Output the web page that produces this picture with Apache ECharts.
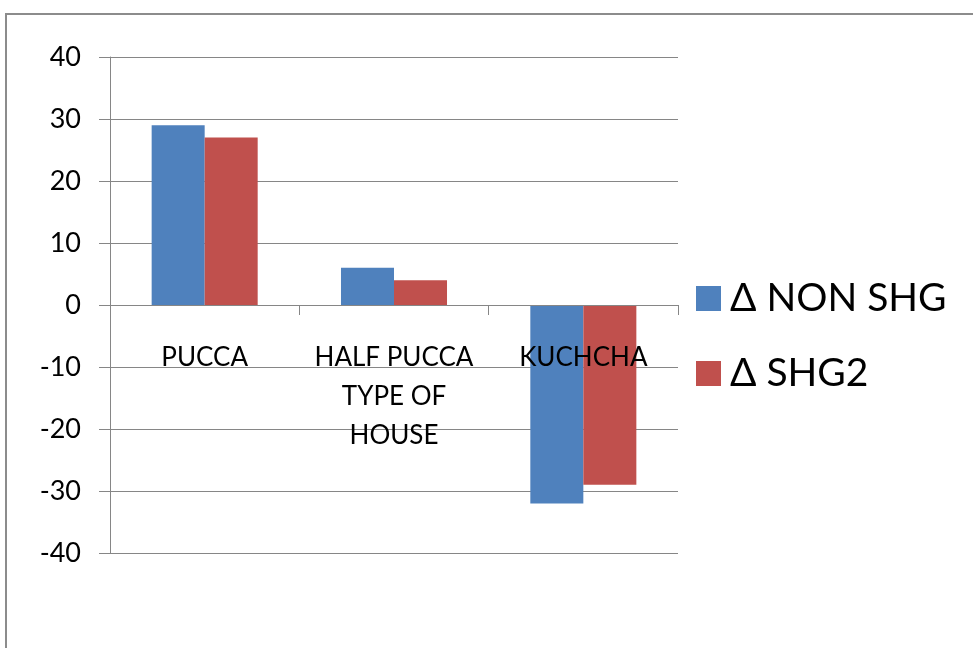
<!DOCTYPE html>
<html>
<head>
<meta charset="utf-8">
<style>
  html, body { margin: 0; padding: 0; background: #fff; }
  #chart { width: 973px; height: 648px; }
</style>
<script src="https://cdn.jsdelivr.net/npm/echarts@6/dist/echarts.min.js"></script>
</head>
<body>
<div id="chart"></div>
<script>
// House types and change in share for each group
const categories = ['PUCCA', 'HALF PUCCA', 'KUCHCHA'];
const nonShg = [29, 6, -32];
const shg2 = [27, 4, -29];
const seriesNames = ['\u0394 NON SHG', '\u0394 SHG2'];
const axisTitle = 'TYPE OF\nHOUSE';

const FONT = 'Lato, "Open Sans", sans-serif';
const GRID = { left: 110, top: 57, right: 295, bottom: 95 };
const Y_MIN = -40, Y_MAX = 40;
// the category axis sits on the zero line: shift it up from the grid bottom
const plotH = 648 - GRID.top - GRID.bottom;
const zeroShift = plotH * (0 - Y_MIN) / (Y_MAX - Y_MIN);

const chart = echarts.init(document.getElementById('chart'));

chart.setOption({
  animation: false,
  backgroundColor: '#fff',
  textStyle: { fontFamily: FONT },
  graphic: [{
    type: 'rect',
    shape: { x: 6, y: 14, width: 1000, height: 700 },
    style: { fill: 'none', stroke: '#8c8c8c', lineWidth: 2 },
    silent: true
  }],
  grid: Object.assign({ containLabel: false, outerBoundsMode: 'none' }, GRID),
  legend: {
    orient: 'vertical',
    left: 691,
    top: 274,
    itemWidth: 25,
    itemHeight: 25,
    itemGap: 36,
    icon: 'rect',
    textStyle: { fontSize: 39, color: '#000', fontFamily: FONT, padding: [0, 0, 0, 4] },
    data: seriesNames
  },
  xAxis: {
    type: 'category',
    data: categories,
    position: 'bottom',
    offset: -zeroShift,
    z: 10,
    name: axisTitle,
    nameLocation: 'middle',
    nameGap: 72,
    nameTextStyle: { fontSize: 26, color: '#000', lineHeight: 39, fontFamily: FONT },
    axisLine: { onZero: false, lineStyle: { color: '#868686', width: 1 } },
    axisTick: { show: true, length: 10, lineStyle: { color: '#868686' } },
    axisLabel: { fontSize: 26, color: '#000', margin: 40, interval: 0, fontFamily: FONT }
  },
  yAxis: {
    type: 'value',
    min: Y_MIN,
    max: Y_MAX,
    interval: 10,
    axisLine: { show: true, lineStyle: { color: '#868686', width: 1 } },
    axisTick: { show: true, length: 11, lineStyle: { color: '#868686' } },
    axisLabel: { fontSize: 27, color: '#000', margin: 29, fontFamily: FONT },
    splitLine: { show: true, lineStyle: { color: '#868686', width: 1 } }
  },
  series: [
    {
      name: seriesNames[0],
      type: 'bar',
      data: nonShg,
      barGap: '0%',
      barCategoryGap: '44%',
      itemStyle: { color: '#4F81BD' }
    },
    {
      name: seriesNames[1],
      type: 'bar',
      data: shg2,
      itemStyle: { color: '#C0504D' }
    }
  ]
});
</script>
</body>
</html>
